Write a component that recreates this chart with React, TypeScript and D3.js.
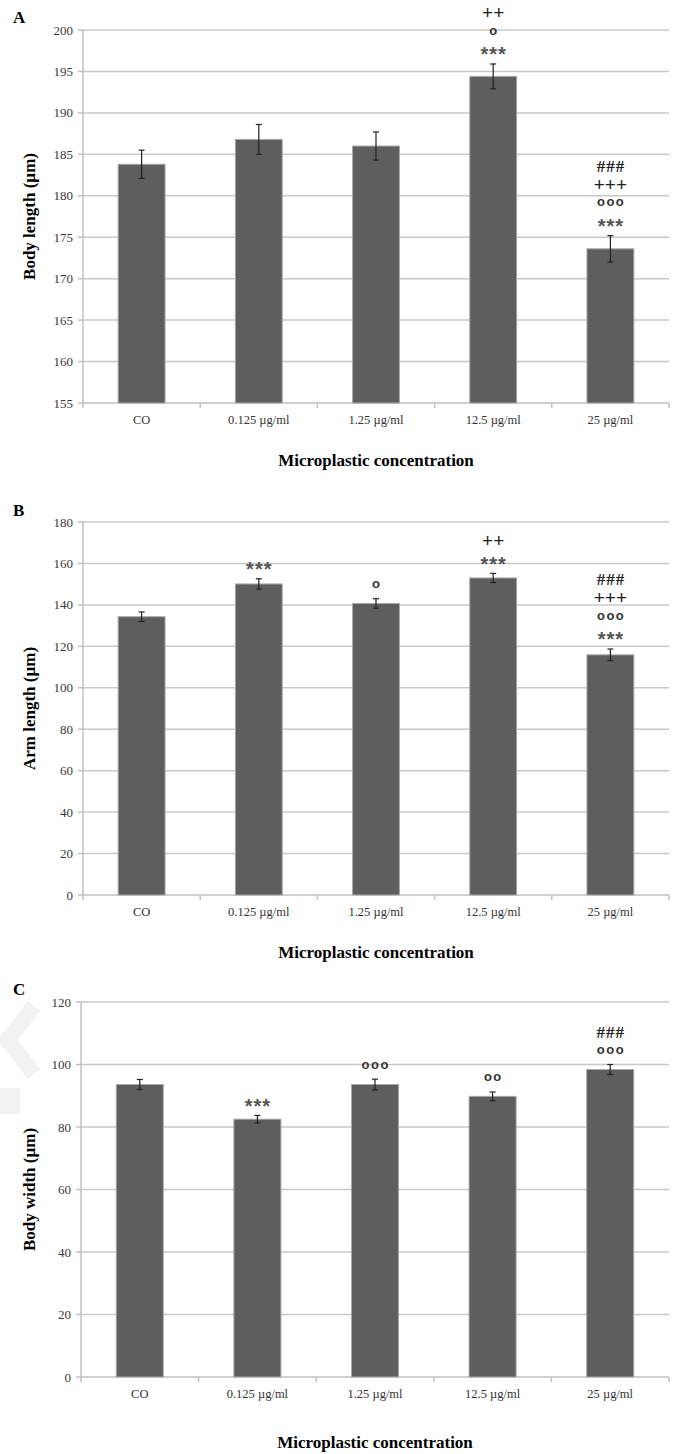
import * as d3 from 'd3'
import React from 'react'

// categories + values
const categories = ['CO', '0.125 µg/ml', '1.25 µg/ml', '12.5 µg/ml', '25 µg/ml']

const bodyLength = [183.8, 186.8, 186.0, 194.4, 173.6]
const bodyLengthErr = [1.7, 1.8, 1.7, 1.5, 1.6]
const bodyLengthMarks = [[], [], [], ['***', 'o', '++'], ['***', 'ooo', '+++', '###']]
const bodyLengthTicks = [155, 160, 165, 170, 175, 180, 185, 190, 195, 200]

const armLength = [134.3, 150.1, 140.7, 153.0, 115.9]
const armLengthErr = [2.3, 2.5, 2.3, 2.2, 2.8]
const armLengthMarks = [[], ['***'], ['o'], ['***', '++'], ['***', 'ooo', '+++', '###']]
const armLengthTicks = [0, 20, 40, 60, 80, 100, 120, 140, 160, 180]

const bodyWidth = [93.6, 82.5, 93.6, 89.8, 98.4]
const bodyWidthErr = [1.6, 1.2, 1.7, 1.4, 1.6]
const bodyWidthMarks = [[], ['***'], ['ooo'], ['oo'], ['ooo', '###']]
const bodyWidthTicks = [0, 20, 40, 60, 80, 100, 120]

const serif = '"Liberation Serif", "Times New Roman", serif'
const sans = '"Liberation Sans", Arial, sans-serif'

export default function App() {
    const ref = React.useRef<SVGSVGElement>(null)

    React.useEffect(() => {
        document.body.style.margin = '0'
        const svg = d3.select(ref.current)
        svg.selectAll('*').remove()

        // faint watermark fragment at the left edge of panel C
        svg.append('polyline')
            .attr('points', '34,1006 8,1040 34,1074')
            .attr('fill', 'none').attr('stroke', '#f2f2f2').attr('stroke-width', 16)
        svg.append('rect').attr('x', 0).attr('y', 1088).attr('width', 20).attr('height', 26).attr('fill', '#f2f2f2')

        drawPanel(svg, {
            letter: 'A', letterY: 23,
            top: 30, bottom: 403, left: 83, right: 669,
            values: bodyLength, errs: bodyLengthErr, marks: bodyLengthMarks, ticks: bodyLengthTicks,
            yLabel: 'Body length (µm)', xTitleY: 466,
        })
        drawPanel(svg, {
            letter: 'B', letterY: 516,
            top: 522, bottom: 895, left: 83, right: 669,
            values: armLength, errs: armLengthErr, marks: armLengthMarks, ticks: armLengthTicks,
            yLabel: 'Arm length (µm)', xTitleY: 958,
        })
        drawPanel(svg, {
            letter: 'C', letterY: 995,
            top: 1002, bottom: 1377, left: 81, right: 669,
            values: bodyWidth, errs: bodyWidthErr, marks: bodyWidthMarks, ticks: bodyWidthTicks,
            yLabel: 'Body width (µm)', xTitleY: 1448,
        })
    })

    function drawPanel(svg: any, p: any) {
        const n = p.ticks.length
        const y = d3.scaleLinear().domain([p.ticks[0], p.ticks[n - 1]]).range([p.bottom, p.top])
        const x = d3.scaleBand().domain(categories).range([p.left, p.right]).paddingInner(0.6).paddingOuter(0.3)
        const step = x.step()
        const g = svg.append('g')

        // grid
        g.selectAll('.grid')
            .data(p.ticks.slice(1))
            .enter().append('line')
            .attr('x1', p.left).attr('x2', p.right)
            .attr('y1', (d: number) => y(d)).attr('y2', (d: number) => y(d))
            .attr('stroke', '#c8c8c8').attr('stroke-width', 1.5)

        // axes
        g.append('line').attr('x1', p.left).attr('x2', p.left).attr('y1', p.top).attr('y2', p.bottom)
            .attr('stroke', '#c0c0c0').attr('stroke-width', 1.5)
        g.append('line').attr('x1', p.left).attr('x2', p.right).attr('y1', p.bottom).attr('y2', p.bottom)
            .attr('stroke', '#c0c0c0').attr('stroke-width', 1.5)

        g.selectAll('.ytick')
            .data(p.ticks)
            .enter().append('line')
            .attr('x1', p.left - 5).attr('x2', p.left)
            .attr('y1', (d: number) => y(d)).attr('y2', (d: number) => y(d))
            .attr('stroke', '#c0c0c0').attr('stroke-width', 1.5)
        g.selectAll('.ylab')
            .data(p.ticks)
            .enter().append('text')
            .attr('x', p.left - 10)
            .attr('y', (d: number) => y(d) + 4.5)
            .attr('text-anchor', 'end')
            .attr('font-family', serif).attr('font-size', 13).attr('fill', '#3a3a3a')
            .text((d: number) => d)

        g.selectAll('.xtick')
            .data(d3.range(categories.length + 1))
            .enter().append('line')
            .attr('x1', (i: number) => p.left + i * step).attr('x2', (i: number) => p.left + i * step)
            .attr('y1', p.bottom).attr('y2', p.bottom + 5)
            .attr('stroke', '#c0c0c0').attr('stroke-width', 1.5)
        g.selectAll('.xlab')
            .data(categories)
            .enter().append('text')
            .attr('x', (d: string) => x(d)! + x.bandwidth() / 2)
            .attr('y', p.bottom + 21)
            .attr('text-anchor', 'middle')
            .attr('font-family', serif).attr('font-size', 12.5).attr('fill', '#333')
            .text((d: string) => d)

        // bars
        g.selectAll('.bar')
            .data(p.values)
            .enter().append('rect')
            .attr('x', (d: number, i: number) => x(categories[i])!)
            .attr('width', x.bandwidth())
            .attr('y', (d: number) => y(d))
            .attr('height', (d: number) => p.bottom - y(d))
            .attr('fill', '#5e5e5e').attr('stroke', '#a8a8a8').attr('stroke-width', 1)

        // error bars
        p.values.forEach((v: number, i: number) => {
            const cx = x(categories[i])! + x.bandwidth() / 2
            const e = p.errs[i]
            const eg = g.append('g').attr('stroke', '#222').attr('stroke-width', 1.2)
            eg.append('line').attr('x1', cx).attr('x2', cx).attr('y1', y(v + e)).attr('y2', y(v - e))
            eg.append('line').attr('x1', cx - 3).attr('x2', cx + 3).attr('y1', y(v + e)).attr('y2', y(v + e))
            eg.append('line').attr('x1', cx - 3).attr('x2', cx + 3).attr('y1', y(v - e)).attr('y2', y(v - e))

            // significance marks stacked above
            let cy = y(v + e) - 14
            p.marks[i].forEach((m: string) => {
                drawMark(g, m, cx, cy)
                cy -= 18.5
            })
        })

        // titles
        g.append('text')
            .attr('x', 13).attr('y', p.letterY)
            .attr('font-family', serif).attr('font-weight', 'bold').attr('font-size', 17)
            .text(p.letter)
        g.append('text')
            .attr('transform', `translate(35,${(p.top + p.bottom) / 2}) rotate(-90)`)
            .attr('text-anchor', 'middle')
            .attr('font-family', serif).attr('font-weight', 'bold').attr('font-size', 17)
            .text(p.yLabel)
        g.append('text')
            .attr('x', (p.left + p.right) / 2).attr('y', p.xTitleY)
            .attr('text-anchor', 'middle')
            .attr('font-family', serif).attr('font-weight', 'bold').attr('font-size', 17)
            .text('Microplastic concentration')
    }

    function drawMark(g: any, m: string, cx: number, cy: number) {
        const ch = m[0]
        let fs = 16, family = sans, weight = 'normal', spacing = 1, fill = '#333', off = 0.33
        if (ch === '*') { fs = 20; weight = 'bold'; spacing = 1; fill = '#555'; off = 0.57 }
        if (ch === 'o') { fs = 13; weight = 'bold'; spacing = 1.5; fill = '#333'; off = 0.26 }
        if (ch === '+') { fs = 19; spacing = 0; fill = '#222'; off = 0.33 }
        if (ch === '#') { fs = 17; family = serif; weight = 'bold'; spacing = 1; fill = '#222'; off = 0.34 }
        g.append('text')
            .attr('x', cx + spacing / 2)
            .attr('y', cy + off * fs)
            .attr('text-anchor', 'middle')
            .attr('font-family', family).attr('font-weight', weight).attr('font-size', fs)
            .attr('letter-spacing', spacing)
            .attr('fill', fill)
            .text(m)
    }

    return (
        <svg ref={ref} width={678} height={1454} style={{ display: 'block', background: '#fff' }}></svg>
    )
}
